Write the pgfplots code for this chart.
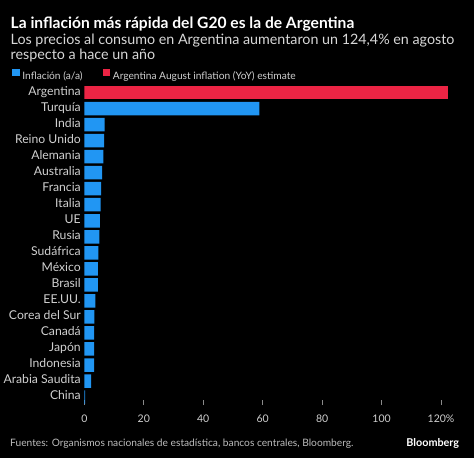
\documentclass[border=0pt]{standalone}
\usepackage{pgfplots}
\pgfplotsset{compat=1.18}
\usepackage{fontspec}
\setmainfont{Lato}
\definecolor{barblue}{HTML}{2196F3}
\definecolor{barred}{HTML}{EC2444}
\definecolor{subgray}{HTML}{D8D8D8}
\definecolor{labgray}{HTML}{D0D0D0}
\definecolor{footgray}{HTML}{BDBDBD}
\definecolor{tickgray}{HTML}{8A8A8A}
\begin{document}
\begin{tikzpicture}[x=1pt,y=1pt]
\fill[black] (0,0) rectangle (474,458);
\useasboundingbox (0,0) rectangle (474,458);
\node[anchor=base west, inner sep=0pt, text=white, font=\bfseries\fontsize{15.6}{17}\selectfont] at (10.5,429.7) {La inflación más rápida del G20 es la de Argentina};
\node[anchor=base west, inner sep=0pt, text=subgray, font=\fontsize{14.3}{16}\selectfont] at (10.5,413.7) {Los precios al consumo en Argentina aumentaron un 124,4\% en agosto};
\node[anchor=base west, inner sep=0pt, text=subgray, font=\fontsize{14.3}{16}\selectfont] at (10.5,398.7) {respecto a hace un año};
\node[anchor=base west, inner sep=0pt, text=footgray, font=\fontsize{10.2}{12}\selectfont] at (10,11.3) {Fuentes: Organismos nacionales de estadística, bancos centrales, Bloomberg.};
\node[anchor=base east, inner sep=0pt, text=white, font=\bfseries\fontsize{10.8}{12}\selectfont] at (459.3,11.3) {Bloomberg};
\begin{axis}[
  at={(84.3pt,373.5pt)}, anchor=north west,
  scale only axis, width=371.6pt, height=320.6pt,
  xbar, bar shift=0pt, bar width=13.5pt,
  xmin=0, xmax=125, ymin=-0.5, ymax=19.5, y dir=reverse,
  axis line style={draw=none},
  xtick={0,20,40,60,80,100,120},
  xticklabels={0,20,40,60,80,100,120\%},
  xtick pos=lower, tick align=inside, major tick length=5pt,
  xtick style={draw=tickgray, line width=0.8pt},
  ytick={0,...,19},
  yticklabels={Argentina,Turquía,India,Reino Unido,Alemania,Australia,Francia,Italia,UE,Rusia,Sudáfrica,México,Brasil,EE.UU.,Corea del Sur,Canadá,Japón,Indonesia,Arabia Saudita,China},
  ytick style={draw=none},
  yticklabel style={anchor=base east, yshift=-2.8pt, text=labgray, font=\fontsize{12.2}{14}\selectfont},
  xticklabel style={anchor=base, yshift=-17.7pt, text=labgray, font=\fontsize{10.5}{12}\selectfont},
  /pgf/number format/assume math mode=true,
  legend style={at={(0,1)}, anchor=west, xshift=-72.3pt, yshift=9.5pt, draw=none, fill=none, inner sep=0pt,
    nodes={inner sep=0pt},
    font=\fontsize{10.2}{12}\selectfont, text=labgray, legend columns=-1,
    /tikz/every odd column/.append style={column sep=2.7pt},
    /tikz/every even column/.append style={column sep=20pt}},
  legend image code/.code={\fill[#1] (0pt,-0.3pt) rectangle (7.5pt,7pt);},
]
\addplot[fill=barblue, draw=none] coordinates {
(58.9,1) (6.8,2) (6.7,3) (6.4,4) (6.0,5) (5.7,6) (5.5,7) (5.2,8) (5.1,9) (4.7,10)
(4.6,11) (4.6,12) (3.7,13) (3.4,14) (3.3,15) (3.3,16) (3.3,17) (2.3,18) (0.3,19)};
\addlegendentry{Inflación (a/a)}
\addplot[fill=barred, draw=none] coordinates {(122.4,0)};
\addlegendentry{Argentina August inflation (YoY) estimate}
\end{axis}
\end{tikzpicture}
\end{document}
